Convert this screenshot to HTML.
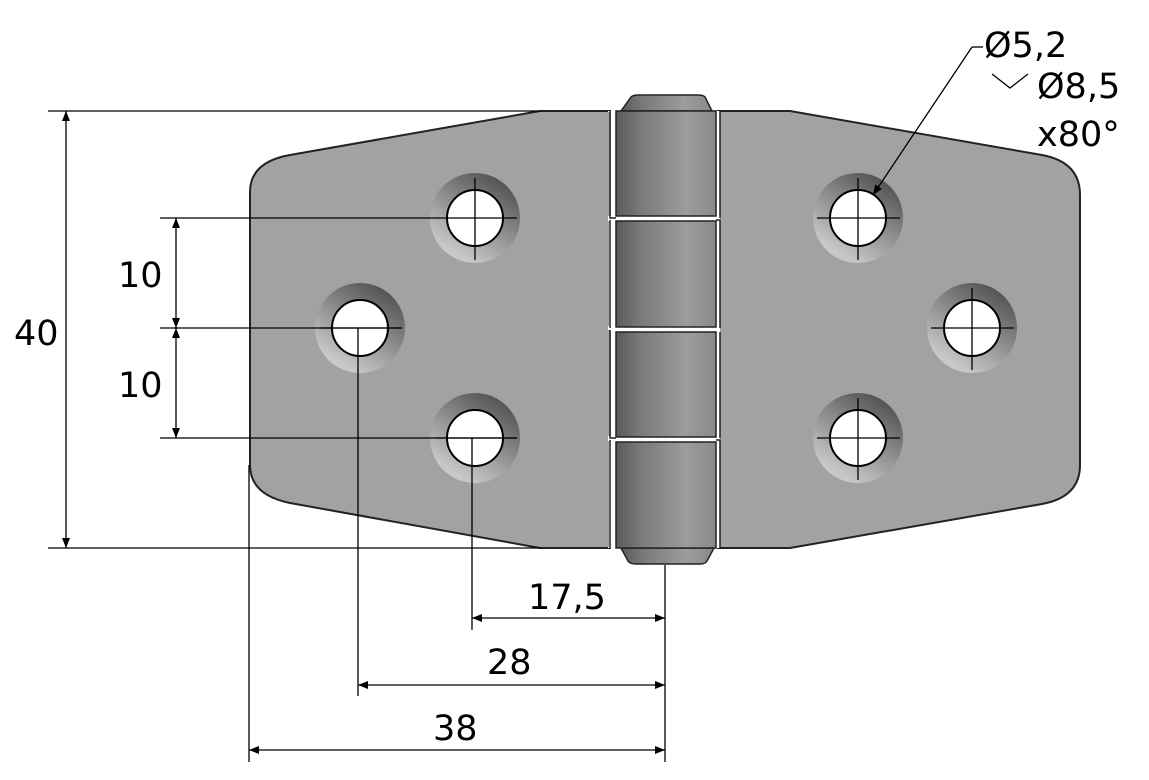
<!DOCTYPE html>
<html><head><meta charset="utf-8"><style>
html,body{margin:0;padding:0;background:#fff;width:1149px;height:780px;overflow:hidden}
text{font-family:"DejaVu Sans","Liberation Sans",sans-serif;fill:#000}
</style></head><body>
<svg width="1149" height="780" viewBox="0 0 1149 780" xmlns="http://www.w3.org/2000/svg">
<defs>
<linearGradient id="kn" x1="0" x2="1" y1="0" y2="0">
<stop offset="0" stop-color="#5a5a5a"/><stop offset="0.25" stop-color="#7a7a7a"/><stop offset="0.7" stop-color="#9c9c9c"/><stop offset="1" stop-color="#8a8a8a"/>
</linearGradient>
<radialGradient id="cs" cx="0.45" cy="0.6" r="0.6">
<stop offset="0.5" stop-color="#bdbdbd"/><stop offset="1" stop-color="#6a6a6a"/>
</radialGradient>
<linearGradient id="cs2" x1="0.3" y1="0.9" x2="0.8" y2="0.1">
<stop offset="0" stop-color="#c8c8c8"/><stop offset="1" stop-color="#555"/>
</linearGradient>
<marker id="ar" viewBox="0 0 10 10" refX="10" refY="5" markerWidth="14" markerHeight="10" markerUnits="userSpaceOnUse" orient="auto-start-reverse">
<path d="M0,1 L10,5 L0,9 z" fill="#000"/></marker>
</defs>
<!-- left plate -->
<path d="M540,111 L610,111 L610,548 L540,548 L290,503 Q250,495 250,465 L250,192 Q250,162 290,155 Z" fill="#a2a2a2" stroke="#222" stroke-width="2"/>
<!-- right plate -->
<path d="M718,111 L790,111 L1042,155 Q1080,162 1080,195 L1080,465 Q1080,497 1042,504 L790,548 L718,548 Z" fill="#a2a2a2" stroke="#222" stroke-width="2"/>
<!-- knuckle gaps -->
<rect x="608" y="111" width="112" height="437" fill="#fff"/>
<!-- caps -->
<path d="M621,111 L631,97 Q633,95 638,95 L698,95 Q703,95 705,97 L712,111 Z" fill="url(#kn)" stroke="#222" stroke-width="1.5"/>
<path d="M621,548 L628,561 Q630,564 636,564 L700,564 Q705,564 707,561 L714,548 Z" fill="url(#kn)" stroke="#222" stroke-width="1.5"/>
<!-- knuckle segments -->
<rect x="616" y="111" width="100" height="105" fill="url(#kn)" stroke="#222" stroke-width="1.5"/>
<rect x="616" y="221" width="100" height="106" fill="url(#kn)" stroke="#222" stroke-width="1.5"/>
<rect x="616" y="332" width="100" height="105" fill="url(#kn)" stroke="#222" stroke-width="1.5"/>
<rect x="616" y="442" width="100" height="106" fill="url(#kn)" stroke="#222" stroke-width="1.5"/>
<!-- plate tabs adjacent to knuckles -->
<rect x="600" y="112" width="11" height="104" fill="#a2a2a2"/>
<rect x="600" y="330" width="11" height="106" fill="#a2a2a2"/>
<rect x="720" y="222" width="10" height="105" fill="#a2a2a2"/>
<rect x="720" y="441" width="10" height="106" fill="#a2a2a2"/>
<rect x="600" y="221" width="9" height="105" fill="#a2a2a2"/>
<rect x="600" y="441" width="9" height="106" fill="#a2a2a2"/>
<rect x="721" y="112" width="10" height="104" fill="#a2a2a2"/>
<rect x="721" y="332" width="10" height="104" fill="#a2a2a2"/>
<path d="M610,111 L610,218 L616,218 M610,220 L610,328 M610,330 L610,438 L616,438 M610,440 L610,548" stroke="#222" stroke-width="1.5" fill="none"/>
<path d="M720,111 L720,218 M716,220 L720,220 L720,328 M720,332 L720,438 M716,440 L720,440 L720,548" stroke="#222" stroke-width="1.5" fill="none"/>
<!-- holes -->
<g stroke="#000">
<circle cx="475" cy="218" r="45" fill="url(#cs2)" stroke="none"/><circle cx="475" cy="218" r="28" fill="#fff" stroke-width="2"/>
<circle cx="360" cy="328" r="45" fill="url(#cs2)" stroke="none"/><circle cx="360" cy="328" r="28" fill="#fff" stroke-width="2"/>
<circle cx="475" cy="438" r="45" fill="url(#cs2)" stroke="none"/><circle cx="475" cy="438" r="28" fill="#fff" stroke-width="2"/>
<circle cx="858" cy="218" r="45" fill="url(#cs2)" stroke="none"/><circle cx="858" cy="218" r="28" fill="#fff" stroke-width="2"/>
<circle cx="972" cy="328" r="45" fill="url(#cs2)" stroke="none"/><circle cx="972" cy="328" r="28" fill="#fff" stroke-width="2"/>
<circle cx="858" cy="438" r="45" fill="url(#cs2)" stroke="none"/><circle cx="858" cy="438" r="28" fill="#fff" stroke-width="2"/>
</g>
<g stroke="#000" stroke-width="1.3">
<path d="M817,218 H900 M858,178 V260 M931,328 H1014 M972,288 V370 M817,438 H900 M858,398 V480"/>
<path d="M437,218 V218 M475,178 V260 M320,328 H402 M437,438 H517"/>
<!-- extension lines -->
<path d="M48,111 H540 M48,548 H540 M160,218 H517 M160,328 H402 M160,438 H517"/>
<path d="M665,565 V762 M472,438 V630 M358,328 V696 M249,465 V762"/>
<!-- dim lines -->
<line x1="66" y1="111" x2="66" y2="548" marker-start="url(#ar)" marker-end="url(#ar)"/>
<line x1="176" y1="218" x2="176" y2="328" marker-start="url(#ar)" marker-end="url(#ar)"/>
<line x1="176" y1="328" x2="176" y2="438" marker-start="url(#ar)" marker-end="url(#ar)"/>
<line x1="472" y1="618" x2="665" y2="618" marker-start="url(#ar)" marker-end="url(#ar)"/>
<line x1="358" y1="685" x2="665" y2="685" marker-start="url(#ar)" marker-end="url(#ar)"/>
<line x1="249" y1="750" x2="665" y2="750" marker-start="url(#ar)" marker-end="url(#ar)"/>
<path d="M972,47 H983" fill="none"/>
<line x1="972" y1="47" x2="873" y2="195" marker-end="url(#ar)"/>
<path d="M992,74 L1010,88 L1028,74" fill="none"/>
</g>
<g font-size="35">
<text x="14" y="345">40</text>
<text x="118" y="287">10</text>
<text x="118" y="397">10</text>
<text x="528" y="609">17,5</text>
<text x="487" y="674">28</text>
<text x="433" y="740">38</text>
<text x="984" y="57">Ø5,2</text>
<text x="1037" y="98">Ø8,5</text>
<text x="1037" y="146">x80°</text>
</g>
</svg>
</body></html>
